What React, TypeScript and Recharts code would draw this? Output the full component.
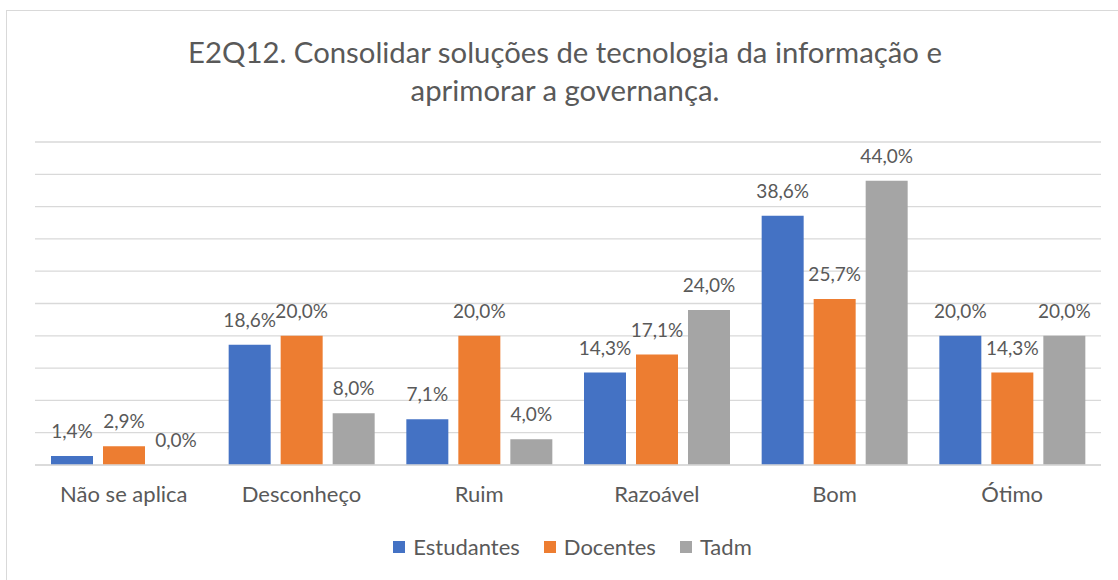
import React from 'react';
import { BarChart, Bar, XAxis, YAxis, CartesianGrid, LabelList } from 'recharts';

const categories = ['Não se aplica', 'Desconheço', 'Ruim', 'Razoável', 'Bom', 'Ótimo'];
const estudantes = [1.4, 18.6, 7.1, 14.3, 38.6, 20.0];
const docentes = [2.9, 20.0, 20.0, 17.1, 25.7, 14.3];
const tadm = [0.0, 8.0, 4.0, 24.0, 44.0, 20.0];
const yTicks = [0, 5, 10, 15, 20, 25, 30, 35, 40, 45, 50];

const series = [
  { key: 'Estudantes', color: '#4472C4', values: estudantes },
  { key: 'Docentes', color: '#ED7D31', values: docentes },
  { key: 'Tadm', color: '#A5A5A5', values: tadm },
];

const data = categories.map((name, i) => ({
  name,
  Estudantes: estudantes[i],
  Docentes: docentes[i],
  Tadm: tadm[i],
}));

const FONT = 'Lato, "Open Sans", sans-serif';
const TEXT = '#595959';

const fmt = (v: any) => `${Number(v).toFixed(1).replace('.', ',')}%`;

const App: React.FC = () => {
  return (
    <div style={{ position: 'absolute', left: 0, top: 0, width: 1118, height: 580, overflow: 'hidden', background: '#fff', fontFamily: FONT }}>
      <div style={{ position: 'absolute', left: 6, top: 10, width: 1130, height: 600, border: '1.5px solid #d9d9d9', boxSizing: 'border-box' }} />
      <div style={{ position: 'absolute', left: 0, top: 33, width: 1130, textAlign: 'center', color: TEXT, fontSize: 29.3, lineHeight: '38px' }}>
        E2Q12. Consolidar soluções de tecnologia da informação e
        <br />
        aprimorar a governança.
      </div>
      <div style={{ position: 'absolute', left: 0, top: 0 }}>
        <BarChart
          width={1118}
          height={580}
          data={data}
          margin={{ top: 142, right: 17, left: 35, bottom: 85 }}
          barCategoryGap={16}
          barGap={10}
        >
          <CartesianGrid vertical={false} stroke="#d9d9d9" strokeWidth={1.3} />
          <YAxis hide domain={[0, 50]} ticks={yTicks} />
          <XAxis
            dataKey="name"
            height={30}
            axisLine={{ stroke: '#d9d9d9', strokeWidth: 1.3 }}
            tickLine={false}
            tickMargin={15}
            tick={{ fill: TEXT, fontSize: 22, fontFamily: FONT }}
            interval={0}
          />
          {series.map((s) => (
            <Bar key={s.key} dataKey={s.key} fill={s.color} minPointSize={0.01} isAnimationActive={false}>
              <LabelList dataKey={s.key} position="top" offset={18} formatter={fmt} fill={TEXT} fontSize={19} fontFamily={FONT} />
            </Bar>
          ))}
        </BarChart>
      </div>
      <div style={{ position: 'absolute', left: 0, top: 533, width: 1145, display: 'flex', justifyContent: 'center', color: TEXT, fontSize: 22 }}>
        {series.map((s, i) => (
          <div key={s.key} style={{ display: 'flex', alignItems: 'center', marginLeft: i === 0 ? 0 : 24 }}>
            <span style={{ display: 'inline-block', width: 12, height: 12, background: s.color, marginRight: 8 }} />
            <span>{s.key}</span>
          </div>
        ))}
      </div>
    </div>
  );
};

export default App;
